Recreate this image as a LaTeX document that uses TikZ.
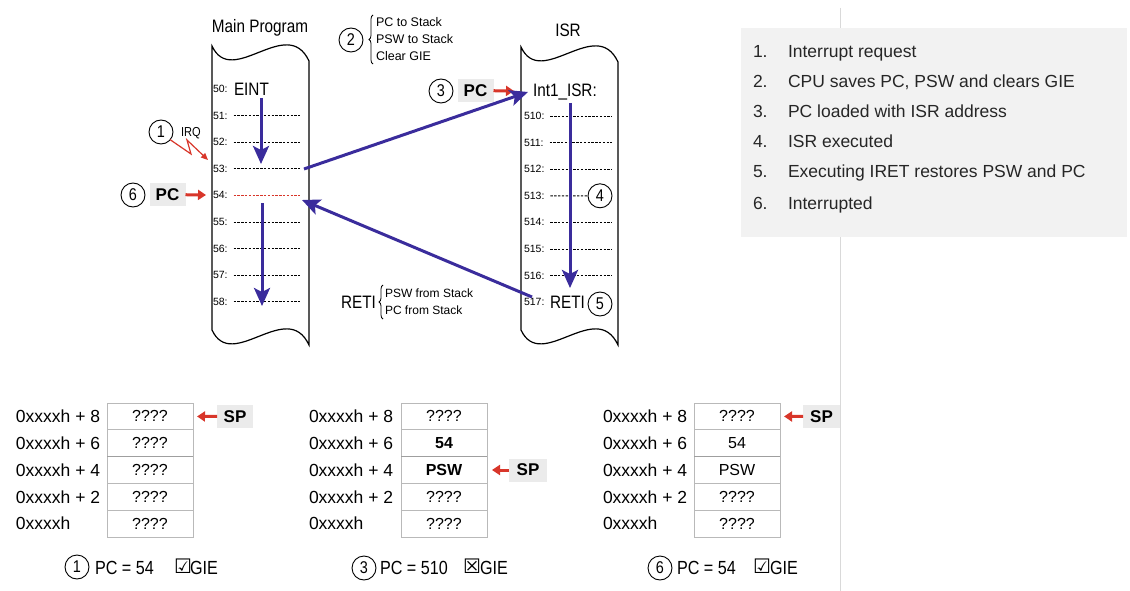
\documentclass[tikz,border=0pt]{standalone}
\usepackage{fontspec}
\setmainfont{Liberation Sans}
\newfontfamily\narrowf[FakeStretch=0.85]{Liberation Sans}
\newfontfamily\symf{DejaVu Sans}
\usetikzlibrary{arrows.meta,decorations.pathreplacing,calc}
\definecolor{ublue}{HTML}{3A2C9C}
\definecolor{ured}{HTML}{D8362A}
\definecolor{boxgray}{HTML}{EBEBEB}
\definecolor{panel}{HTML}{F2F2F2}
\newcommand\fsz[1]{\fontsize{#1}{#1}\selectfont}
\newcommand\stk[8]{%
  \node[cell] (#1r1) at (#2,403) {#4};
  \node[cell] (#1r2) at (#2,429.8) {#5};
  \node[cell] (#1r3) at (#2,456.6) {#6};
  \node[cell] (#1r4) at (#2,483.4) {#7};
  \node[cell] (#1r5) at (#2,510.2) {#8};
  \draw[gray!75, line width=1.4pt] (#1r2.south west) -- (#1r2.south east);
  \node[stlab] (#1l1) at (#3,416.4) {0xxxxh + 8};
  \node[stlab] (#1l2) at (#3,443.2) {0xxxxh + 6};
  \node[stlab] (#1l3) at (#3,470.0) {0xxxxh + 4};
  \node[stlab] (#1l4) at (#3,496.8) {0xxxxh + 2};
  \node[stlab] (#1l5) at (#3,523.6) {0xxxxh};
}
\begin{document}
\begin{tikzpicture}[x=1pt,y=-1pt,
  every node/.style={inner sep=0pt, outer sep=0pt},
  rowlab/.style={anchor=west, font=\fsz{10.5}},
  dots/.style={line width=0.9pt, dash pattern=on 2.4pt off 1.4pt},
  circ/.style={circle, draw, line width=0.9pt, minimum size=24pt, font=\narrowf\fsz{17}},
  pcbox/.style={fill=boxgray, minimum width=36pt, minimum height=23pt, font=\bfseries\fsz{17}},
  redarr/.style={ured, line width=3pt, -{Triangle[length=8pt,width=10pt]}},
  bluearr/.style={ublue, line width=3pt, -{Stealth[length=18pt,width=16pt,inset=4pt]}},
  cell/.style={draw=gray!55, line width=0.8pt, minimum width=86pt, minimum height=26.8pt, anchor=north west, font=\fsz{16}},
  stlab/.style={anchor=west, font=\fsz{17.5}},
  ttl/.style={font=\narrowf\fsz{18}},
  brtext/.style={anchor=west, font=\fsz{12.5}},
  item/.style={anchor=base west, font=\fsz{17.5}, text=black!85},
  captxt/.style={anchor=west, font=\narrowf\fsz{19}},
  chk/.style={anchor=west, font=\symf\bfseries\fsz{20}},
  tape/.style={line width=1.2pt}
]
\useasboundingbox (0,0) rectangle (1130,591);
% separator line
\draw[gray!30, line width=1pt] (840,8) -- (840,591);
% right panel
\node[fill=panel, anchor=north west, minimum width=386pt, minimum height=209pt] (panel) at (741,28) {};
\node[item] (n1) at (753,58) {1.};  \node[item] (t1) at (788,58) {Interrupt request};
\node[item] (n2) at (753,88) {2.};  \node[item] (t2) at (788,88) {CPU saves PC, PSW and clears GIE};
\node[item] (n3) at (753,118) {3.}; \node[item] (t3) at (788,118) {PC loaded with ISR address};
\node[item] (n4) at (753,148) {4.}; \node[item] (t4) at (788,148) {ISR executed};
\node[item] (n5) at (753,178) {5.}; \node[item] (t5) at (788,178) {Executing IRET restores PSW and PC};
\node[item] (n6) at (753,209) {6.}; \node[item] (t6) at (788,209) {Interrupted};

% ---------- Main program ----------
\node[ttl] (mtitle) at (260,28) {Main Program};
\draw[tape] (212,330) -- (212,46) .. controls (232,89) and (287,14) .. (309,61)
  -- (309,345) .. controls (287,298) and (232,373) .. (212,330) -- cycle;
\foreach \n [count=\i from 0] in {50,...,58} {
  \node[rowlab] (ml\n) at (213,{89+26.6*\i}) {\n:};
}
\node[ttl, anchor=base west] (eint) at (234,95.4) {EINT};
\foreach \n in {51,52,53,55,56,57,58} {
  \draw[dots] ([xshift=6pt]ml\n.east) -- ++(66,0);
}
\draw[dots, ured] ([xshift=6pt]ml54.east) -- ++(66,0);
\coordinate (ma1s) at (261,98);  \coordinate (ma1e) at (261,164);
\coordinate (ma2s) at (262,203); \coordinate (ma2e) at (262,306);
\draw[bluearr] (ma1s) -- (ma1e);
\draw[bluearr] (ma2s) -- (ma2e);

% IRQ
\node[circ] (c1) at (161,132) {1};
\node[anchor=west, font=\narrowf\fsz{13}] (irq) at (181,133) {IRQ};
\coordinate (irqtip) at (208,160);
\draw[ured, line width=1.2pt, -{Triangle[length=7pt,width=6pt]}] (c1.-40) -- (191,154) -- (187,140) -- (irqtip);

% 6 PC
\node[circ] (c6) at (133,195) {6};
\node[pcbox] (pc6) at (167.5,194.5) {PC};
\coordinate (pc6tip) at (206,195);
\draw[redarr] (pc6) -- (pc6tip);

% ---------- ISR ----------
\node[ttl] (ititle) at (568,30) {ISR};
\draw[tape] (521,330) -- (521,47) .. controls (541,90) and (596,15) .. (618,62)
  -- (618,345) .. controls (596,298) and (541,373) .. (521,330) -- cycle;
\node[ttl, anchor=base west] (int1) at (533,96.4) {Int1\_ISR:};
\foreach \n [count=\i from 0] in {510,...,517} {
  \node[rowlab] (il\n) at (524,{116+26.6*\i}) {\n:};
}
\node[circ] (c4) at (600,195.8) {4};
\node[circ] (c5) at (600,304) {5};
\foreach \n in {510,511,512,514,515,516} {
  \draw[dots] ([xshift=6pt]il\n.east) -- ++(62,0);
}
\draw[dots] ([xshift=6pt]il513.east) -- (c4.west);
\node[ttl, anchor=base west] (reti) at (550,308.6) {RETI};
\coordinate (ia1s) at (570,103); \coordinate (ia1e) at (570,288);
\draw[bluearr] (ia1s) -- (ia1e);

% 3 PC
\node[circ] (c3) at (441,91) {3};
\node[pcbox] (pc3) at (475.5,90.5) {PC};
\coordinate (pc3tip) at (514,91);
\draw[redarr] (pc3) -- (pc3tip);

% transfer arrows
\coordinate (m53e) at (304,169);
\coordinate (isrin) at (528,92);
\coordinate (retiout) at (532,297);
\coordinate (m54e) at (302,200);
\draw[bluearr] (m53e) -- (isrin);
\draw[bluearr] (retiout) -- (m54e);

% 2 brace
\node[circ] (c2) at (351,40) {2};
\draw[decorate, decoration={brace, amplitude=4pt}, line width=0.8pt] (373,64) -- (373,15);
\node[brtext] (b21) at (376,22.5) {PC to Stack};
\node[brtext] (b22) at (376,39.5) {PSW to Stack};
\node[brtext] (b23) at (376,56.5) {Clear GIE};

% RETI brace
\node[ttl, anchor=base west] (reti2) at (341,308.4) {RETI};
\draw[decorate, decoration={brace, amplitude=4pt}, line width=0.8pt] (383,319) -- (383,285);
\node[brtext, font=\fsz{12}] (r1) at (385,293.5) {PSW from Stack};
\node[brtext, font=\fsz{12}] (r2) at (385,310.5) {PC from Stack};

% ---------- stacks ----------
\stk{ta}{107}{16}{????}{????}{????}{????}{????}
\stk{tb}{401}{309}{????}{\textbf{54}}{\textbf{PSW}}{????}{????}
\stk{tc}{694}{603}{????}{54}{PSW}{????}{????}

\node[pcbox] (spa) at (235,416.5) {SP};
\draw[redarr, shorten >=4pt] (spa) -- (tar1);
\node[pcbox, minimum width=38pt] (spb) at (528,470) {SP};
\draw[redarr, shorten >=5pt] (spb) -- (tbr3);
\node[pcbox, minimum width=37pt] (spc) at (821.5,416.5) {SP};
\draw[redarr, shorten >=4pt] (spc) -- (tcr1);

% captions
\node[circ] (ba) at (77,567) {1};
\node[captxt] (bat) at (95,568) {PC = 54};
\node[chk] (bac) at (174,566) {☑};
\node[captxt] (bag) at (190,568) {GIE};

\node[circ] (bb) at (364,568) {3};
\node[captxt] (bbt) at (380,568) {PC = 510};
\node[chk] (bbc) at (463,566) {☒};
\node[captxt] (bbg) at (480,568) {GIE};

\node[circ] (bc) at (660,568) {6};
\node[captxt] (bct) at (677,568) {PC = 54};
\node[chk] (bcc) at (753,566) {☑};
\node[captxt] (bcg) at (770,568) {GIE};
\end{tikzpicture}
\end{document}
